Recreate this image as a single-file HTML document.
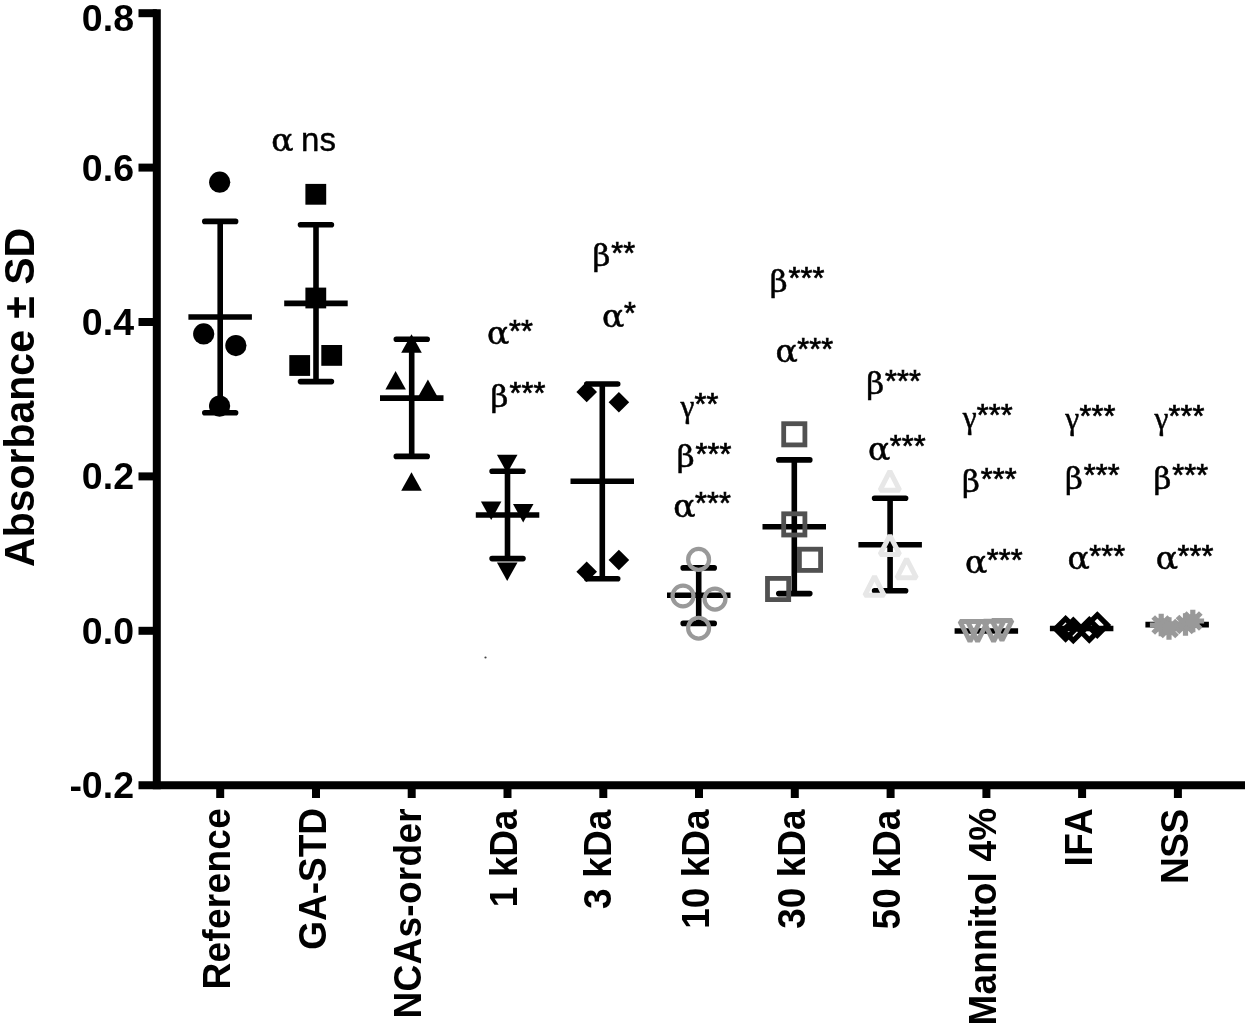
<!DOCTYPE html>
<html lang="en"><head><meta charset="utf-8"><title>Absorbance ± SD</title>
<style>html,body{margin:0;padding:0;background:#fff}svg{display:block}text{fill:#000}</style>
</head><body>
<svg width="1250" height="1027" viewBox="0 0 1250 1027">
<rect width="1250" height="1027" fill="#fff"/>
<g stroke="#000" stroke-width="8.0" fill="none">
<path d="M156.8 9.2V789.2"/>
<path d="M138.5 785.2H1245"/>
<path d="M138.5 13.2H156.8"/>
<path d="M138.5 167.6H156.8"/>
<path d="M138.5 322.0H156.8"/>
<path d="M138.5 476.4H156.8"/>
<path d="M138.5 630.8H156.8"/>
<path d="M220.2 785.2V798"/>
<path d="M316.0 785.2V798"/>
<path d="M411.7 785.2V798"/>
<path d="M507.5 785.2V798"/>
<path d="M603.3 785.2V798"/>
<path d="M699.0 785.2V798"/>
<path d="M794.8 785.2V798"/>
<path d="M890.6 785.2V798"/>
<path d="M986.4 785.2V798"/>
<path d="M1082.1 785.2V798"/>
<path d="M1177.9 785.2V798"/>
</g>
<g font-family="'Liberation Sans', sans-serif" font-weight="bold" font-size="37.5" text-anchor="end">
<text x="134" y="30.9">0.8</text>
<text x="134" y="180.6">0.6</text>
<text x="134" y="335.0">0.4</text>
<text x="134" y="489.4">0.2</text>
<text x="134" y="643.8">0.0</text>
<text x="134" y="798.2">-0.2</text>
</g>
<text transform="translate(34 397.4) rotate(-90) scale(1 1.04)" text-anchor="middle" font-family="'Liberation Sans', sans-serif" font-weight="bold" font-size="41">Absorbance ± SD</text>
<g font-family="'Liberation Sans', sans-serif" font-weight="bold" font-size="37" text-anchor="end">
<text transform="translate(229.9 808.0) rotate(-90) scale(1 1.04)" letter-spacing="0.29">Reference</text>
<text transform="translate(325.7 808.0) rotate(-90) scale(1 1.04)">GA-STD</text>
<text transform="translate(421.4 808.0) rotate(-90) scale(1 1.04)" letter-spacing="0.3">NCAs-order</text>
<text transform="translate(517.2 810.0) rotate(-90) scale(1 1.04)" letter-spacing="-0.3">1 kDa</text>
<text transform="translate(610.6 809.5) rotate(-90) scale(1 1.04)" letter-spacing="0.15">3 kDa</text>
<text transform="translate(708.8 809.5) rotate(-90) scale(1 1.04)">10 kDa</text>
<text transform="translate(804.5 809.5) rotate(-90) scale(1 1.04)">30 kDa</text>
<text transform="translate(900.3 809.5) rotate(-90) scale(1 1.04)" letter-spacing="0.1">50 kDa</text>
<text transform="translate(996.1 807.6) rotate(-90) scale(1 1.04)" letter-spacing="0.2">Mannitol 4%</text>
<text transform="translate(1091.8 808.0) rotate(-90) scale(1 1.04)" letter-spacing="0.3">IFA</text>
<text transform="translate(1187.6 809.2) rotate(-90) scale(1 1.04)" letter-spacing="-0.4">NSS</text>
</g>
<g stroke="#000" stroke-width="5.6" fill="none">
<path d="M220.2 221.4V412.7"/>
<path stroke-linecap="round" d="M204.8 221.4H235.6M204.8 412.7H235.6"/>
<path d="M188.4 317.0H251.9"/>
</g>
<circle cx="219.7" cy="182.2" r="10.6" fill="#000" stroke="none" stroke-width="0"/>
<circle cx="203.7" cy="333.9" r="10.6" fill="#000" stroke="none" stroke-width="0"/>
<circle cx="235.9" cy="345.6" r="10.6" fill="#000" stroke="none" stroke-width="0"/>
<circle cx="219.6" cy="406.1" r="10.6" fill="#000" stroke="none" stroke-width="0"/>
<g stroke="#000" stroke-width="5.6" fill="none">
<path d="M316.0 224.7V381.6"/>
<path stroke-linecap="round" d="M300.5 224.7H331.4M300.5 381.6H331.4"/>
<path d="M284.2 303.4H347.7"/>
</g>
<rect x="305.4" y="183.9" width="20.8" height="20.8" fill="#000" stroke="none" stroke-width="0"/>
<rect x="305.4" y="287.6" width="20.8" height="20.8" fill="#000" stroke="none" stroke-width="0"/>
<rect x="321.3" y="345.0" width="20.8" height="20.8" fill="#000" stroke="none" stroke-width="0"/>
<rect x="289.3" y="355.1" width="20.8" height="20.8" fill="#000" stroke="none" stroke-width="0"/>
<g stroke="#000" stroke-width="5.6" fill="none">
<path d="M411.7 339.3V456.4"/>
<path stroke-linecap="round" d="M396.3 339.3H427.2M396.3 456.4H427.2"/>
<path d="M380.0 398.1H443.5"/>
</g>
<path d="M411.5 334.3L421.8 352.7H401.2Z" fill="#000" stroke="none" stroke-width="0" stroke-linejoin="miter"/>
<path d="M395.6 371.0L405.9 389.4H385.4Z" fill="#000" stroke="none" stroke-width="0" stroke-linejoin="miter"/>
<path d="M427.9 379.4L438.1 397.8H417.6Z" fill="#000" stroke="none" stroke-width="0" stroke-linejoin="miter"/>
<path d="M411.5 472.3L421.8 490.7H401.2Z" fill="#000" stroke="none" stroke-width="0" stroke-linejoin="miter"/>
<g stroke="#000" stroke-width="5.6" fill="none">
<path d="M507.5 471.3V558.6"/>
<path stroke-linecap="round" d="M492.1 471.3H523.0M492.1 558.6H523.0"/>
<path d="M475.8 515.0H539.3"/>
</g>
<path d="M507.2 473.2L517.5 454.8H496.9Z" fill="#000" stroke="none" stroke-width="0" stroke-linejoin="miter"/>
<path d="M491.2 520.0L501.4 501.6H480.9Z" fill="#000" stroke="none" stroke-width="0" stroke-linejoin="miter"/>
<path d="M523.2 522.4L533.5 504.0H513.0Z" fill="#000" stroke="none" stroke-width="0" stroke-linejoin="miter"/>
<path d="M507.2 581.0L517.5 562.6H496.9Z" fill="#000" stroke="none" stroke-width="0" stroke-linejoin="miter"/>
<g stroke="#000" stroke-width="5.6" fill="none">
<path d="M602.3 384.0V578.7"/>
<path stroke-linecap="round" d="M586.8 384.0H617.7M586.8 578.7H617.7"/>
<path d="M570.5 481.3H634.0"/>
</g>
<path d="M586.7 381.6L597.0 391.9L586.7 402.2L576.4 391.9Z" fill="#000" stroke="none" stroke-width="0"/>
<path d="M618.9 392.0L629.2 402.3L618.9 412.6L608.6 402.3Z" fill="#000" stroke="none" stroke-width="0"/>
<path d="M618.9 549.7L629.2 560.0L618.9 570.3L608.6 560.0Z" fill="#000" stroke="none" stroke-width="0"/>
<path d="M586.7 561.5L597.0 571.8L586.7 582.1L576.4 571.8Z" fill="#000" stroke="none" stroke-width="0"/>
<g stroke="#000" stroke-width="5.6" fill="none">
<path d="M698.7 567.9V623.4"/>
<path stroke-linecap="round" d="M683.2 567.9H714.2M683.2 623.4H714.2"/>
<path d="M667.0 595.2H730.5"/>
</g>
<circle cx="698.6" cy="559.4" r="10.45" fill="none" stroke="#999" stroke-width="4.2"/>
<circle cx="683.0" cy="596.0" r="10.45" fill="none" stroke="#999" stroke-width="4.2"/>
<circle cx="715.0" cy="599.1" r="10.45" fill="none" stroke="#999" stroke-width="4.2"/>
<circle cx="698.6" cy="628.2" r="10.45" fill="none" stroke="#999" stroke-width="4.2"/>
<g stroke="#000" stroke-width="5.6" fill="none">
<path d="M794.3 459.9V593.6"/>
<path stroke-linecap="round" d="M778.8 459.9H809.8M778.8 593.6H809.8"/>
<path d="M762.5 526.7H826.0"/>
</g>
<rect x="783.7" y="423.7" width="21.2" height="21.2" fill="none" stroke="#515151" stroke-width="4.8"/>
<rect x="783.7" y="513.8" width="21.2" height="21.2" fill="none" stroke="#515151" stroke-width="4.8"/>
<rect x="799.4" y="549.2" width="21.2" height="21.2" fill="none" stroke="#515151" stroke-width="4.8"/>
<rect x="767.5" y="578.4" width="21.2" height="21.2" fill="none" stroke="#515151" stroke-width="4.8"/>
<g stroke="#000" stroke-width="5.6" fill="none">
<path d="M890.1 498.3V590.7"/>
<path stroke-linecap="round" d="M874.6 498.3H905.6M874.6 590.7H905.6"/>
<path d="M858.4 544.7H921.9"/>
</g>
<path d="M889.9 471.2L899.6 490.2H880.1Z" fill="none" stroke="#e7e7e7" stroke-width="5" stroke-linejoin="bevel"/>
<path d="M889.9 535.4L899.6 554.4H880.1Z" fill="none" stroke="#e7e7e7" stroke-width="5" stroke-linejoin="bevel"/>
<path d="M906.6 558.8L916.4 577.8H896.9Z" fill="none" stroke="#e7e7e7" stroke-width="5" stroke-linejoin="bevel"/>
<path d="M874.5 576.3L884.2 595.3H864.8Z" fill="none" stroke="#e7e7e7" stroke-width="5" stroke-linejoin="bevel"/>
<path stroke="#000" stroke-width="5.6" d="M954.6 631.0H1018.1"/>
<path d="M970.0 641.5L980.0 621.5H960.0Z" fill="none" stroke="#999" stroke-width="5" stroke-linejoin="bevel"/>
<path d="M977.6 641.5L987.6 621.5H967.6Z" fill="none" stroke="#999" stroke-width="5" stroke-linejoin="bevel"/>
<path d="M993.6 641.3L1003.6 621.3H983.6Z" fill="none" stroke="#999" stroke-width="5" stroke-linejoin="bevel"/>
<path d="M1002.0 640.4L1012.0 620.4H992.0Z" fill="none" stroke="#999" stroke-width="5" stroke-linejoin="bevel"/>
<path stroke="#000" stroke-width="5.6" d="M1049.9 628.5H1113.4"/>
<path d="M1065.6 618.6L1075.8 628.8L1065.6 639.0L1055.4 628.8Z" fill="none" stroke="#000" stroke-width="5.2"/>
<path d="M1073.3 620.2L1083.5 630.4L1073.3 640.6L1063.1 630.4Z" fill="none" stroke="#000" stroke-width="5.2"/>
<path d="M1089.3 619.6L1099.5 629.8L1089.3 640.0L1079.1 629.8Z" fill="none" stroke="#000" stroke-width="5.2"/>
<path d="M1097.3 614.9L1107.5 625.1L1097.3 635.3L1087.1 625.1Z" fill="none" stroke="#000" stroke-width="5.2"/>
<path stroke="#000" stroke-width="5.6" d="M1145.4 624.6H1208.9"/>
<path d="M1149.9 625.0L1172.5 625.0M1153.2 617.0L1169.2 633.0M1161.2 613.7L1161.2 636.3M1169.2 617.0L1153.2 633.0" stroke="#999" stroke-width="5.2" fill="none"/>
<circle cx="1161.2" cy="625.0" r="7.2" fill="#999"/>
<path d="M1157.7 628.5L1180.3 628.5M1161.0 620.5L1177.0 636.5M1169.0 617.2L1169.0 639.8M1177.0 620.5L1161.0 636.5" stroke="#999" stroke-width="5.2" fill="none"/>
<circle cx="1169.0" cy="628.5" r="7.2" fill="#999"/>
<path d="M1174.2 624.5L1196.8 624.5M1177.5 616.5L1193.5 632.5M1185.5 613.2L1185.5 635.8M1193.5 616.5L1177.5 632.5" stroke="#999" stroke-width="5.2" fill="none"/>
<circle cx="1185.5" cy="624.5" r="7.2" fill="#999"/>
<path d="M1181.5 621.0L1204.1 621.0M1184.8 613.0L1200.8 629.0M1192.8 609.7L1192.8 632.3M1200.8 613.0L1184.8 629.0" stroke="#999" stroke-width="5.2" fill="none"/>
<circle cx="1192.8" cy="621.0" r="7.2" fill="#999"/>
<text transform="translate(271.3 150.6) scale(1.06 1)" font-size="31.2" font-family="'DejaVu Serif', 'Liberation Serif', serif" stroke="#000" stroke-width="0.5">α</text>
<text x="301.1" y="150.6" font-size="33" font-family="'Liberation Sans', sans-serif" stroke="#000" stroke-width="0.4">ns</text>
<text transform="translate(487.1 344.0) scale(1.06 1)" font-size="31.2" font-family="'DejaVu Serif', 'Liberation Serif', serif" stroke="#000" stroke-width="0.5">α</text>
<text x="508.9 520.9" y="341.7" font-size="30.5" font-family="'Liberation Sans', sans-serif" stroke="#000" stroke-width="0.7">**</text>
<text transform="translate(490.6 406.7) scale(1.05 1)" font-size="29.5" font-family="'DejaVu Serif', 'Liberation Serif', serif" stroke="#000" stroke-width="0.5">β</text>
<text x="509.4 521.4 533.4" y="404.4" font-size="30.5" font-family="'Liberation Sans', sans-serif" stroke="#000" stroke-width="0.7">***</text>
<text transform="translate(592.5 266.2) scale(1.05 1)" font-size="29.5" font-family="'DejaVu Serif', 'Liberation Serif', serif" stroke="#000" stroke-width="0.5">β</text>
<text x="611.3 623.3" y="263.9" font-size="30.5" font-family="'Liberation Sans', sans-serif" stroke="#000" stroke-width="0.7">**</text>
<text transform="translate(602.1 326.6) scale(1.06 1)" font-size="31.2" font-family="'DejaVu Serif', 'Liberation Serif', serif" stroke="#000" stroke-width="0.5">α</text>
<text x="623.9" y="324.3" font-size="30.5" font-family="'Liberation Sans', sans-serif" stroke="#000" stroke-width="0.7">*</text>
<text transform="translate(680.4 417.0) scale(0.97 1)" font-size="32.4" font-family="'Liberation Serif', 'DejaVu Serif', serif" stroke="#000" stroke-width="0.5">γ</text>
<text x="694.5 706.5" y="414.7" font-size="30.5" font-family="'Liberation Sans', sans-serif" stroke="#000" stroke-width="0.7">**</text>
<text transform="translate(676.7 466.8) scale(1.05 1)" font-size="29.5" font-family="'DejaVu Serif', 'Liberation Serif', serif" stroke="#000" stroke-width="0.5">β</text>
<text x="695.5 707.5 719.5" y="464.5" font-size="30.5" font-family="'Liberation Sans', sans-serif" stroke="#000" stroke-width="0.7">***</text>
<text transform="translate(673.3 516.5) scale(1.06 1)" font-size="31.2" font-family="'DejaVu Serif', 'Liberation Serif', serif" stroke="#000" stroke-width="0.5">α</text>
<text x="695.1 707.1 719.1" y="514.2" font-size="30.5" font-family="'Liberation Sans', sans-serif" stroke="#000" stroke-width="0.7">***</text>
<text transform="translate(769.8 291.5) scale(1.05 1)" font-size="29.5" font-family="'DejaVu Serif', 'Liberation Serif', serif" stroke="#000" stroke-width="0.5">β</text>
<text x="788.6 800.6 812.6" y="289.2" font-size="30.5" font-family="'Liberation Sans', sans-serif" stroke="#000" stroke-width="0.7">***</text>
<text transform="translate(775.4 362.2) scale(1.06 1)" font-size="31.2" font-family="'DejaVu Serif', 'Liberation Serif', serif" stroke="#000" stroke-width="0.5">α</text>
<text x="797.2 809.2 821.2" y="359.9" font-size="30.5" font-family="'Liberation Sans', sans-serif" stroke="#000" stroke-width="0.7">***</text>
<text transform="translate(866.2 393.8) scale(1.05 1)" font-size="29.5" font-family="'DejaVu Serif', 'Liberation Serif', serif" stroke="#000" stroke-width="0.5">β</text>
<text x="885.0 897.0 909.0" y="391.5" font-size="30.5" font-family="'Liberation Sans', sans-serif" stroke="#000" stroke-width="0.7">***</text>
<text transform="translate(868.0 459.7) scale(1.06 1)" font-size="31.2" font-family="'DejaVu Serif', 'Liberation Serif', serif" stroke="#000" stroke-width="0.5">α</text>
<text x="889.8 901.8 913.8" y="457.4" font-size="30.5" font-family="'Liberation Sans', sans-serif" stroke="#000" stroke-width="0.7">***</text>
<text transform="translate(962.7 428.4) scale(0.97 1)" font-size="32.4" font-family="'Liberation Serif', 'DejaVu Serif', serif" stroke="#000" stroke-width="0.5">γ</text>
<text x="976.8 988.8 1000.8" y="426.1" font-size="30.5" font-family="'Liberation Sans', sans-serif" stroke="#000" stroke-width="0.7">***</text>
<text transform="translate(962.0 492.2) scale(1.05 1)" font-size="29.5" font-family="'DejaVu Serif', 'Liberation Serif', serif" stroke="#000" stroke-width="0.5">β</text>
<text x="980.8 992.8 1004.8" y="489.9" font-size="30.5" font-family="'Liberation Sans', sans-serif" stroke="#000" stroke-width="0.7">***</text>
<text transform="translate(964.9 572.8) scale(1.06 1)" font-size="31.2" font-family="'DejaVu Serif', 'Liberation Serif', serif" stroke="#000" stroke-width="0.5">α</text>
<text x="986.7 998.7 1010.7" y="570.5" font-size="30.5" font-family="'Liberation Sans', sans-serif" stroke="#000" stroke-width="0.7">***</text>
<text transform="translate(1065.3 428.8) scale(0.97 1)" font-size="32.4" font-family="'Liberation Serif', 'DejaVu Serif', serif" stroke="#000" stroke-width="0.5">γ</text>
<text x="1079.4 1091.4 1103.4" y="426.5" font-size="30.5" font-family="'Liberation Sans', sans-serif" stroke="#000" stroke-width="0.7">***</text>
<text transform="translate(1064.9 488.5) scale(1.05 1)" font-size="29.5" font-family="'DejaVu Serif', 'Liberation Serif', serif" stroke="#000" stroke-width="0.5">β</text>
<text x="1083.7 1095.7 1107.7" y="486.2" font-size="30.5" font-family="'Liberation Sans', sans-serif" stroke="#000" stroke-width="0.7">***</text>
<text transform="translate(1067.5 569.3) scale(1.06 1)" font-size="31.2" font-family="'DejaVu Serif', 'Liberation Serif', serif" stroke="#000" stroke-width="0.5">α</text>
<text x="1089.3 1101.3 1113.3" y="567.0" font-size="30.5" font-family="'Liberation Sans', sans-serif" stroke="#000" stroke-width="0.7">***</text>
<text transform="translate(1154.5 428.8) scale(0.97 1)" font-size="32.4" font-family="'Liberation Serif', 'DejaVu Serif', serif" stroke="#000" stroke-width="0.5">γ</text>
<text x="1168.6 1180.6 1192.6" y="426.5" font-size="30.5" font-family="'Liberation Sans', sans-serif" stroke="#000" stroke-width="0.7">***</text>
<text transform="translate(1153.5 488.5) scale(1.05 1)" font-size="29.5" font-family="'DejaVu Serif', 'Liberation Serif', serif" stroke="#000" stroke-width="0.5">β</text>
<text x="1172.3 1184.3 1196.3" y="486.2" font-size="30.5" font-family="'Liberation Sans', sans-serif" stroke="#000" stroke-width="0.7">***</text>
<text transform="translate(1155.7 568.9) scale(1.06 1)" font-size="31.2" font-family="'DejaVu Serif', 'Liberation Serif', serif" stroke="#000" stroke-width="0.5">α</text>
<text x="1177.5 1189.5 1201.5" y="566.6" font-size="30.5" font-family="'Liberation Sans', sans-serif" stroke="#000" stroke-width="0.7">***</text>
<circle cx="485.5" cy="657.5" r="1.1" fill="#444"/>
</svg>
</body></html>
